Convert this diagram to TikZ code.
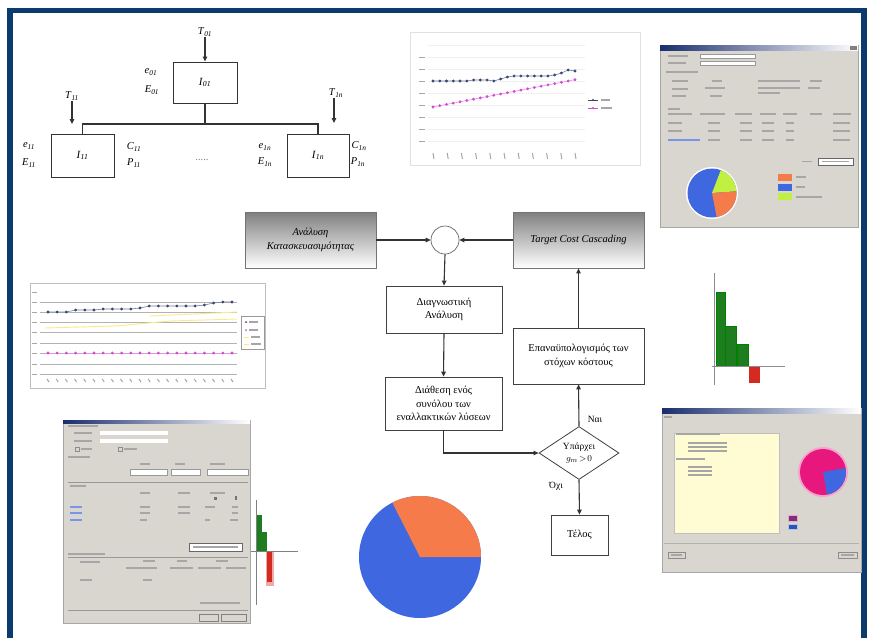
\documentclass[tikz,border=0pt]{standalone}
\usepackage{fontspec}
\setmainfont{Liberation Serif}
\usetikzlibrary{shapes.geometric,arrows.meta}

\definecolor{frameblue}{HTML}{0B3A6E}
\definecolor{pieorange}{HTML}{F67B4A}
\definecolor{pieblue}{HTML}{3E67E0}
\definecolor{wingray}{HTML}{D9D6CF}
\definecolor{bargreen}{HTML}{1E7D1E}
\definecolor{barred}{HTML}{D42A22}
\definecolor{limegreen}{HTML}{C0F040}
\definecolor{hotpink}{HTML}{E8177E}
\definecolor{paleyellow}{HTML}{FFFBD2}
\definecolor{navyline}{HTML}{3A4670}
\definecolor{pinkline}{HTML}{D848D8}
\definecolor{titlenavy}{HTML}{1A2E6E}

\newcommand\sublbl[2]{\textit{#1}\textsubscript{\textit{#2}}}
\newcommand\txtbar[3]{\draw[txt] (#1,#3) -- (#2,#3);}

\tikzset{
  flowbox/.style={draw=black!75, line width=0.8pt, fill=white, align=center,
    font=\fontsize{10.5}{13.5}\selectfont, inner sep=2pt},
  shadebox/.style={draw=black!55, line width=0.8pt, top color=black!50, bottom color=white,
    align=center, font=\itshape\fontsize{10.5}{13.5}\selectfont,
    minimum width=131pt, minimum height=56pt},
  treebox/.style={draw=black!80, line width=0.9pt, fill=white, font=\fontsize{11}{13}\selectfont},
  tlabel/.style={font=\fontsize{10.5}{12}\selectfont, inner sep=1pt},
  arr/.style={-{Triangle[length=5pt,width=4.5pt]}, line width=1.1pt, black!80},
  conn/.style={line width=1.1pt, black!80},
  txt/.style={line width=1.2pt, black!35},
  faint/.style={draw=black!12, line width=0.5pt},
  grid/.style={draw=black!30, line width=0.4pt},
  win/.style={fill=wingray, draw=black!35, line width=0.5pt},
}

\begin{document}
\begin{tikzpicture}[x=1pt,y=-1pt]
\useasboundingbox (0,0) rectangle (872,637);
\fill[white] (0,0) rectangle (872,637);

% outer frame
\draw[frameblue, line width=5.5pt] (10,645) -- (10,10.5) -- (864,10.5) -- (864,645);

% ---------------- hierarchy of items ----------------
\node[treebox, minimum width=64pt, minimum height=41pt] (I01) at (205,82.5) {\sublbl{I}{01}};
\node[treebox, minimum width=63pt, minimum height=43pt] (I11) at (82.5,155.5) {\sublbl{I}{11}};
\node[treebox, minimum width=62pt, minimum height=43pt] (I1n) at (318,155.5) {\sublbl{I}{1n}};
\coordinate (bus) at (205,124);
\draw[conn] (I01.south) -- (bus);
\draw[conn] (I11.north) |- (bus);
\draw[conn] (I1n.north) |- (bus);

\node[tlabel] (T01) at (205,32) {\sublbl{T}{01}};
\node[tlabel] (T11) at (72,96) {\sublbl{T}{11}};
\node[tlabel] (T1n) at (336,93) {\sublbl{T}{1n}};
\coordinate (t11end) at (72,124);
\coordinate (t1nend) at (334,123);
\draw[arr] (T01.south) -- (I01.north);
\draw[arr] (T11.south -| t11end) -- (t11end);
\draw[arr] (T1n.south -| t1nend) -- (t1nend);

\node[tlabel] (e01) at (151,72) {\sublbl{e}{01}};
\node[tlabel] (E01) at (152,90) {\sublbl{E}{01}};
\node[tlabel] (e11) at (29,146) {\sublbl{e}{11}};
\node[tlabel] (E11) at (29,163) {\sublbl{E}{11}};
\node[tlabel] (C11) at (134,147) {\sublbl{C}{11}};
\node[tlabel] (P11) at (134,163) {\sublbl{P}{11}};
\node[tlabel] (e1n) at (265,147) {\sublbl{e}{1n}};
\node[tlabel] (E1n) at (265,162) {\sublbl{E}{1n}};
\node[tlabel] (C1n) at (359,146) {\sublbl{C}{1n}};
\node[tlabel] (P1n) at (358,162) {\sublbl{P}{1n}};
\node[tlabel, text=black!50] (dots) at (202,160) {.....};

% ---------------- flow chart ----------------
\node[shadebox] (A) at (310.5,240) {Ανάλυση\\Κατασκευασιμότητας};
\node[shadebox] (B) at (578.5,240) {Target Cost Cascading};
\node[circle, draw=black!60, line width=0.7pt, fill=white, minimum size=28pt, inner sep=0pt] (S) at (445,240) {};
\node[flowbox, minimum width=116pt, minimum height=47pt] (C) at (444,309.5) {Διαγνωστική\\Ανάλυση};
\node[flowbox, minimum width=117pt, minimum height=53pt] (D) at (443.5,403.5) {Διάθεση ενός\\συνόλου των\\εναλλακτικών λύσεων};
\node[flowbox, minimum width=131pt, minimum height=56pt] (E) at (578.5,356) {Επαναϋπολογισμός των\\στόχων κόστους};
\node[diamond, draw=black!75, line width=0.8pt, fill=white, minimum width=80pt, minimum height=53pt,
      inner sep=0pt, aspect=1.5, align=center, font=\fontsize{9.5}{12}\selectfont] (Q) at (579,453)
      {Υπάρχει\\$g_m\!>\!0$};
\node[flowbox, minimum width=57pt, minimum height=40pt] (F) at (579.5,535) {Τέλος};

\draw[arr] (A.east) -- (S.west);
\draw[arr] (B.west) -- (S.east);
\draw[arr] (S.south) -- (C.north);
\draw[arr] (C.south) -- (D.north);
\draw[arr] (D.south) |- (Q.west);
\draw[arr] (Q.north) -- (E.south);
\draw[arr] (E.north) -- (B.south);
\draw[arr] (Q.south) -- (F.north);
\node[font=\fontsize{9.5}{11}\selectfont] (yes) at (595,419) {Ναι};
\node[font=\fontsize{9.5}{11}\selectfont] (no) at (556,486) {Όχι};

% ---------------- top line chart ----------------
\draw[faint] (410,32) rectangle (640,165);
\foreach \y in {45,57,69,81,93,105,117,129,141} \draw[black!6, line width=0.4pt] (428,\y) -- (585,\y);
\foreach \y in {57,69,81,93,105,117,129,141} \draw[txt, line width=1pt] (419,\y) -- (425,\y);
\foreach \i in {0,...,10} \draw[txt, line width=1pt] ({433+\i*14.2},153) -- ({434+\i*14.2},159);
\draw[pinkline!60, line width=0.6pt, mark=*, mark size=1.1pt, mark options={fill=pinkline, draw=pinkline}]
  plot[domain=0:21, samples=22] ({433+\x*6.76},{107-\x*1.3});
\draw[navyline!70, line width=0.6pt, mark=*, mark size=1.1pt, mark options={fill=navyline, draw=navyline}]
  plot coordinates {(433,81) (439.8,81) (446.5,81) (453.3,81) (460,81) (466.8,81) (473.6,80) (480.3,80)
  (487.1,80) (493.8,81) (500.6,79) (507.4,77) (514.1,76) (520.9,76) (527.6,76) (534.4,76) (541.2,76)
  (547.9,76) (554.7,75) (561.4,73) (568.2,70) (575,71)};
\draw[navyline, line width=0.6pt] (588,100) -- (598,100); \fill[navyline] (593,100) circle (1.1pt);
\draw[pinkline, line width=0.6pt] (588,108) -- (598,108); \fill[pinkline] (593,108) circle (1.1pt);
\txtbar{601}{610}{100}
\txtbar{601}{612}{108}

% ---------------- left line chart ----------------
\draw[faint, draw=black!25] (30,283) rectangle (265,388);
\foreach \y in {302,312,322,332,343,353,364,374} \draw[grid] (40,\y) -- (237,\y);
\foreach \y in {292,302,312,322,332,343,353,364,374} \draw[txt, line width=1pt] (32,\y) -- (37,\y);
\foreach \i in {0,...,20} \draw[txt, line width=1pt] ({47+\i*9.2},379) -- ({49+\i*9.2},382);
\draw[yellow!70!orange!45, line width=0.9pt] (45,328) -- (115,326) -- (170,321) -- (237,319);
\draw[yellow!70!orange!45, line width=0.9pt] (150,316) -- (237,312);
\draw[pinkline!60, line width=0.6pt, mark=*, mark size=1.1pt, mark options={fill=pinkline, draw=pinkline}]
  plot[domain=0:20, samples=21] ({48+\x*9.2},353);
\draw[navyline!70, line width=0.6pt, mark=*, mark size=1.1pt, mark options={fill=navyline, draw=navyline}]
  plot coordinates {(48,312) (57.2,312) (66.4,312) (75.6,310) (84.8,310) (94,310) (103.2,309) (112.4,309)
  (121.6,309) (130.8,309) (140,308) (149.2,306) (158.4,306) (167.6,306) (176.8,306) (186,306)
  (195.2,306) (204.4,305) (213.6,303) (222.8,302) (232,302)};
\draw[black!40, fill=white, line width=0.4pt] (241,316) rectangle (264,349);
\fill[navyline] (246,322) circle (1pt); \txtbar{249}{258}{322}
\fill[pinkline] (246,330) circle (1pt); \txtbar{249}{258}{330}
\draw[yellow!70!orange!50, line width=0.8pt] (244,337) -- (249,337); \txtbar{251}{260}{337}
\draw[yellow!70!orange!50, line width=0.8pt] (244,344) -- (249,344); \txtbar{251}{261}{344}

% ---------------- right bar chart ----------------
\fill[bargreen] (716,292) rectangle (725,366);
\fill[bargreen] (725.5,326) rectangle (736,366);
\fill[bargreen] (737,344) rectangle (748,366);
\draw[black!50!green, line width=0.4pt] (716,292) rectangle (725,366) (725.5,326) rectangle (736,366) (737,344) rectangle (748,366);
\fill[barred] (749,366) rectangle (760,383);
\draw[black!45, line width=0.8pt] (714,273) -- (714,385);
\draw[black!45, line width=0.8pt] (712,366) -- (785,366);

% ---------------- bottom pie chart ----------------
\fill[pieblue] (420,557) circle (61);
\fill[pieorange] (420,557) -- (481,557) arc[start angle=0, end angle=-117, radius=61] -- cycle;

% ---------------- top-right window ----------------
\fill[win] (660,45) rectangle (858,227);
\shade[left color=titlenavy, right color=white] (660,45) rectangle (858,50);
\fill[black!50] (850,45.5) rectangle (857,49.5);
\txtbar{668}{688}{56}
\txtbar{668}{686}{63}
\fill[white] (700,54) rectangle (755,58); \draw[black!40, line width=0.4pt] (700,54) rectangle (755,58);
\fill[white] (700,61) rectangle (755,65); \draw[black!40, line width=0.4pt] (700,61) rectangle (755,65);
\txtbar{666}{698}{72}
\txtbar{672}{688}{81} \txtbar{712}{722}{81} \txtbar{758}{800}{81} \txtbar{810}{822}{81}
\txtbar{672}{688}{89} \txtbar{705}{725}{88} \txtbar{758}{800}{88} \txtbar{808}{820}{88}
\txtbar{672}{686}{96} \txtbar{710}{722}{96} \txtbar{758}{780}{93}
\txtbar{668}{680}{109}
\txtbar{668}{692}{114}
\foreach \a/\b in {700/725,735/752,760/776,783/797,810/822,833/851} {\txtbar{\a}{\b}{114}}
\foreach \y in {123,131,140} {
  \txtbar{668}{682}{\y}
  \foreach \a/\b in {708/720,740/752,762/774,786/794,833/850} {\txtbar{\a}{\b}{\y}}
}
\draw[pieblue!70, line width=1.2pt] (668,140) -- (700,140);
\txtbar{802}{812}{161.5}
\fill[white] (818,158) rectangle (853,165); \draw[black!60, line width=0.5pt] (818,158) rectangle (853,165);
\txtbar{822}{849}{161.5}
% pie: lime upper right, orange lower right, blue on the left
\fill[white] (712,193) circle (26);
\fill[pieblue] (712,193) circle (24.5);
\fill[limegreen] (712,193) -- ++(-4:24.5) arc[start angle=-4, end angle=-69, radius=24.5] -- cycle;
\fill[pieorange] (712,193) -- ++(79:24.5) arc[start angle=79, end angle=-4, radius=24.5] -- cycle;
\fill[pieorange] (778,174) rectangle (792,181);
\fill[pieblue] (778,184) rectangle (792,191);
\fill[limegreen] (778,193) rectangle (792,200);
\txtbar{796}{806}{177}
\txtbar{796}{805}{187}
\txtbar{796}{822}{197}

% ---------------- bottom-left window ----------------
\fill[win] (63,420) rectangle (250,623);
\shade[left color=titlenavy, right color=white] (63,420) rectangle (250,423.5);
\txtbar{68}{98}{426}
\txtbar{74}{92}{433} \fill[white] (100,431) rectangle (168,435);
\txtbar{74}{92}{441} \fill[white] (100,439) rectangle (168,443);
\draw[black!45, line width=0.4pt] (75,447) rectangle (79,451); \txtbar{81}{92}{449}
\draw[black!45, line width=0.4pt] (118,447) rectangle (122,451); \txtbar{124}{137}{449}
\txtbar{68}{90}{457}
\txtbar{140}{150}{464} \txtbar{175}{185}{464} \txtbar{210}{225}{464}
\foreach \a/\b in {130/167,171/200,207/248} {
  \fill[white] (\a,469) rectangle (\b,475); \draw[black!40, line width=0.4pt] (\a,469) rectangle (\b,475);
}
\draw[black!40, line width=0.4pt] (68,482) -- (248,482);
\txtbar{70}{86}{486}
\txtbar{140}{150}{493} \txtbar{178}{190}{493} \txtbar{210}{225}{493}
\fill[black!55] (214,497) rectangle (217,500); \fill[black!55] (235,496) rectangle (237,500);
\draw[pieblue!70, line width=1.2pt] (70,507) -- (82,507);
\draw[pieblue!70, line width=1.2pt] (70,513) -- (82,513);
\draw[pieblue!70, line width=1.2pt] (70,520) -- (82,520);
\txtbar{140}{150}{507} \txtbar{178}{190}{507} \txtbar{205}{215}{507} \txtbar{232}{238}{507}
\txtbar{140}{150}{513} \txtbar{178}{190}{513} \txtbar{232}{238}{513}
\txtbar{140}{147}{520} \txtbar{205}{210}{520} \txtbar{230}{238}{520}
\fill[white] (189,543) rectangle (242,551); \draw[black!60, line width=0.5pt] (189,543) rectangle (242,551);
\txtbar{193}{238}{547}
\txtbar{68}{105}{554}
\draw[black!40, line width=0.4pt] (68,557) -- (248,557);
\txtbar{80}{100}{562}
\txtbar{143}{155}{561} \txtbar{177}{187}{561} \txtbar{216}{228}{561}
\foreach \a/\b in {126/157,170/193,198/221,226/246} {\txtbar{\a}{\b}{568}}
\txtbar{80}{92}{580} \txtbar{143}{152}{580}
\draw[black!40, line width=0.4pt] (68,610) -- (248,610);
\txtbar{200}{240}{603}
\draw[black!50, line width=0.4pt] (199,614) rectangle (218,621);
\draw[black!50, line width=0.4pt] (221,614) rectangle (246,621);
% small bar chart beside it
\fill[white] (251,498) rectangle (299,607);
\fill[bargreen] (256,515) rectangle (262,551);
\fill[bargreen] (262,532) rectangle (267,551);
\fill[barred!40] (266,551) rectangle (274,586);
\fill[barred] (267,551) rectangle (272,582);
\draw[black!50, line width=0.6pt] (256,500) -- (256,605);
\draw[black!50, line width=0.6pt] (251,551) -- (298,551);

% ---------------- bottom-right window ----------------
\fill[win] (662,408) rectangle (861,572);
\shade[left color=titlenavy, right color=white] (662,408) rectangle (861,413);
\txtbar{664}{672}{417}
\fill[paleyellow] (674,433) rectangle (779,533);
\draw[black!25, line width=0.4pt] (674,433) rectangle (779,533);
\txtbar{676}{720}{434}
\foreach \y in {443,447,451} {\txtbar{688}{727}{\y}}
\txtbar{676}{705}{459}
\foreach \y in {467,471,475} {\txtbar{688}{712}{\y}}
% pie: magenta with a blue sector in the lower right
\fill[hotpink!40] (823,472) circle (25);
\fill[hotpink] (823,472) circle (23);
\fill[pieblue] (823,472) -- ++(80:23) arc[start angle=80, end angle=-10, radius=23] -- cycle;
\fill[hotpink!40] (788,515) rectangle (798,522);
\fill[violet!70!black!80] (789,516) rectangle (797,521);
\fill[pieblue!40] (788,524) rectangle (798,530);
\fill[pieblue!80!black] (789,525) rectangle (797,529);
\draw[black!30, line width=0.4pt] (664,543) -- (859,543);
\draw[black!45, line width=0.4pt] (668,552) rectangle (685,558);
\draw[black!45, line width=0.4pt] (838,552) rectangle (857,558);
\txtbar{671}{682}{555}
\txtbar{841}{854}{555}
\end{tikzpicture}
\end{document}
